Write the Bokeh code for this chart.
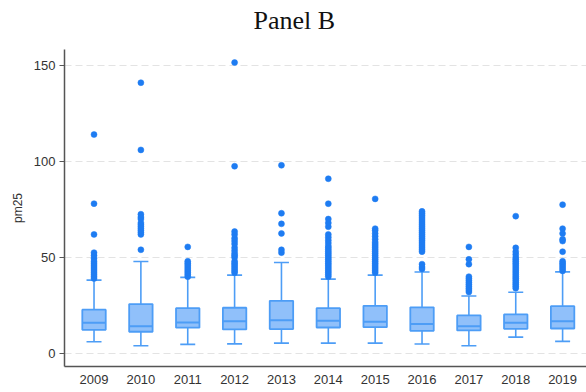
from bokeh.plotting import figure
from bokeh.models import Range1d, FixedTicker, ColumnDataSource, Title
from bokeh.embed import file_html
from bokeh.resources import INLINE

# Yearly PM2.5 distribution summaries
years = [2009, 2010, 2011, 2012, 2013, 2014, 2015, 2016, 2017, 2018, 2019]
lower_whisker = [6.1, 4.0, 4.7, 5.0, 5.4, 5.4, 5.4, 4.9, 4.0, 8.5, 6.3]
q1 = [12.3, 11.3, 13.4, 12.5, 12.7, 13.5, 13.7, 11.8, 12.0, 12.8, 13.0]
median = [16.0, 14.2, 16.1, 16.8, 17.3, 17.0, 16.5, 15.3, 14.2, 16.0, 16.8]
q3 = [22.8, 25.7, 23.6, 23.8, 27.4, 23.6, 24.8, 24.0, 19.8, 20.3, 24.6]
upper_whisker = [38.2, 47.9, 39.6, 40.8, 47.4, 38.7, 40.8, 42.4, 29.9, 31.9, 42.5]

# Outside values per year
out_2009 = [39, 40, 41, 42, 43, 44, 45, 46, 47, 48, 49.5, 51, 52.5, 62, 78, 114]
out_2010 = [54, 62, 63, 64, 65, 66, 67, 68, 70, 71, 72.5, 106, 141]
out_2011 = [40, 41, 42, 43, 44, 45, 46, 47, 48, 55.5]
out_2012 = [42, 43, 44, 45, 46, 47, 48, 50, 51, 52, 53.5, 55, 57, 58.5, 60, 62, 63.5, 97.5, 151.5]
out_2013 = [52.5, 54, 62.5, 67.5, 73, 98]
out_2014 = [40, 41, 42, 43, 44, 45, 46, 47, 48, 49, 50, 51, 52, 53, 54, 55, 56, 57.5, 59, 60.5, 62,
            66, 68, 70, 78, 91]
out_2015 = [42, 43, 44, 45, 46, 47, 48, 49, 50, 51, 52, 53, 54, 55, 56, 57, 58, 59.5, 61, 62.5, 64, 65,
            80.5]
out_2016 = [44, 45, 46.5, 53, 54, 55, 56, 57, 58, 59, 60, 61, 62, 63, 64, 65, 66, 67, 68, 69, 70, 71,
            72, 73, 74]
out_2017 = [32, 33, 34, 35, 36, 37, 38, 39, 40, 46.5, 49, 55.5]
out_2018 = [34, 35, 36, 37, 38, 39, 40, 41, 42, 43, 44, 45, 46, 47, 48, 49, 50, 51.5, 53, 55, 71.5]
out_2019 = [43, 44, 45, 46, 47, 48, 53, 58.5, 59.5, 62.5, 65, 77.5]

outliers = [out_2009, out_2010, out_2011, out_2012, out_2013, out_2014,
            out_2015, out_2016, out_2017, out_2018, out_2019]

BOX_W = 0.5
CAP_W = 0.32
FILL = "#90C0FA"
LINE = "#4D9DF6"
DOT = "#1E7CF2"
TEXT = "#333333"

box_src = ColumnDataSource(dict(
    x=years, lo=lower_whisker, q1=q1, med=median, q3=q3, hi=upper_whisker,
    bx0=[y - BOX_W / 2 for y in years], bx1=[y + BOX_W / 2 for y in years],
    cx0=[y - CAP_W / 2 for y in years], cx1=[y + CAP_W / 2 for y in years],
))

ox, oy = [], []
for yr, vals in zip(years, outliers):
    ox.extend([yr] * len(vals))
    oy.extend(vals)
out_src = ColumnDataSource(dict(x=ox, y=oy))

p = figure(width=586, height=392, output_backend="svg", toolbar_location=None,
           x_range=Range1d(2009 - 0.63, 2019 + 0.51), y_range=Range1d(-6.8, 158.3),
           min_border_left=64, min_border_right=0, min_border_top=49, min_border_bottom=26)

# thin blank band between the plot area and the heading
p.add_layout(Title(text=" ", text_font_size="1px", standoff=10), "above")
p.add_layout(Title(text="Panel B", text_font="Liberation Serif", text_font_size="26px",
                   text_font_style="normal", text_color="#111111", align="left",
                   vertical_align="top", offset=189, standoff=0), "above")

p.outline_line_color = None
p.background_fill_color = "white"
p.border_fill_color = "white"

# whisker stems and caps
p.segment(x0="x", y0="lo", x1="x", y1="q1", source=box_src, line_color=LINE, line_width=1.6)
p.segment(x0="x", y0="q3", x1="x", y1="hi", source=box_src, line_color=LINE, line_width=1.6)
p.segment(x0="cx0", y0="lo", x1="cx1", y1="lo", source=box_src, line_color=LINE, line_width=1.6)
p.segment(x0="cx0", y0="hi", x1="cx1", y1="hi", source=box_src, line_color=LINE, line_width=1.6)

# boxes and medians
p.vbar(x="x", width=BOX_W, bottom="q1", top="q3", source=box_src,
       fill_color=FILL, line_color=LINE, line_width=1.8)
p.segment(x0="bx0", y0="med", x1="bx1", y1="med", source=box_src, line_color=LINE, line_width=2)

# outside values
p.scatter(x="x", y="y", source=out_src, size=6, fill_color=DOT, line_color=DOT, line_width=0.5)

# axes
p.xaxis.ticker = FixedTicker(ticks=years)
p.yaxis.ticker = FixedTicker(ticks=[0, 50, 100, 150])
p.xaxis.minor_tick_line_color = None
p.yaxis.minor_tick_line_color = None
p.xaxis.major_tick_line_color = None
p.xaxis.major_tick_out = 0
p.xaxis.major_label_standoff = 8
p.yaxis.major_tick_out = 5
p.yaxis.major_tick_in = 0
p.yaxis.major_tick_line_color = "#555555"
p.yaxis.major_label_standoff = 4
for ax in (p.xaxis, p.yaxis):
    ax.axis_line_color = "#555555"
    ax.axis_line_width = 1.5
    ax.major_label_text_font = "Liberation Sans"
    ax.major_label_text_font_size = "13px"
    ax.major_label_text_color = TEXT
p.yaxis.axis_label = "pm25"
p.yaxis.axis_label_text_font = "Liberation Sans"
p.yaxis.axis_label_text_font_size = "12px"
p.yaxis.axis_label_text_font_style = "normal"
p.yaxis.axis_label_text_color = TEXT
p.yaxis.axis_label_standoff = 6

p.xgrid.grid_line_color = None
p.ygrid.grid_line_color = "#E3E3E3"
p.ygrid.grid_line_dash = "7 4"
p.ygrid.grid_line_width = 1.2

open("out.html", "w").write(file_html(p, INLINE))
